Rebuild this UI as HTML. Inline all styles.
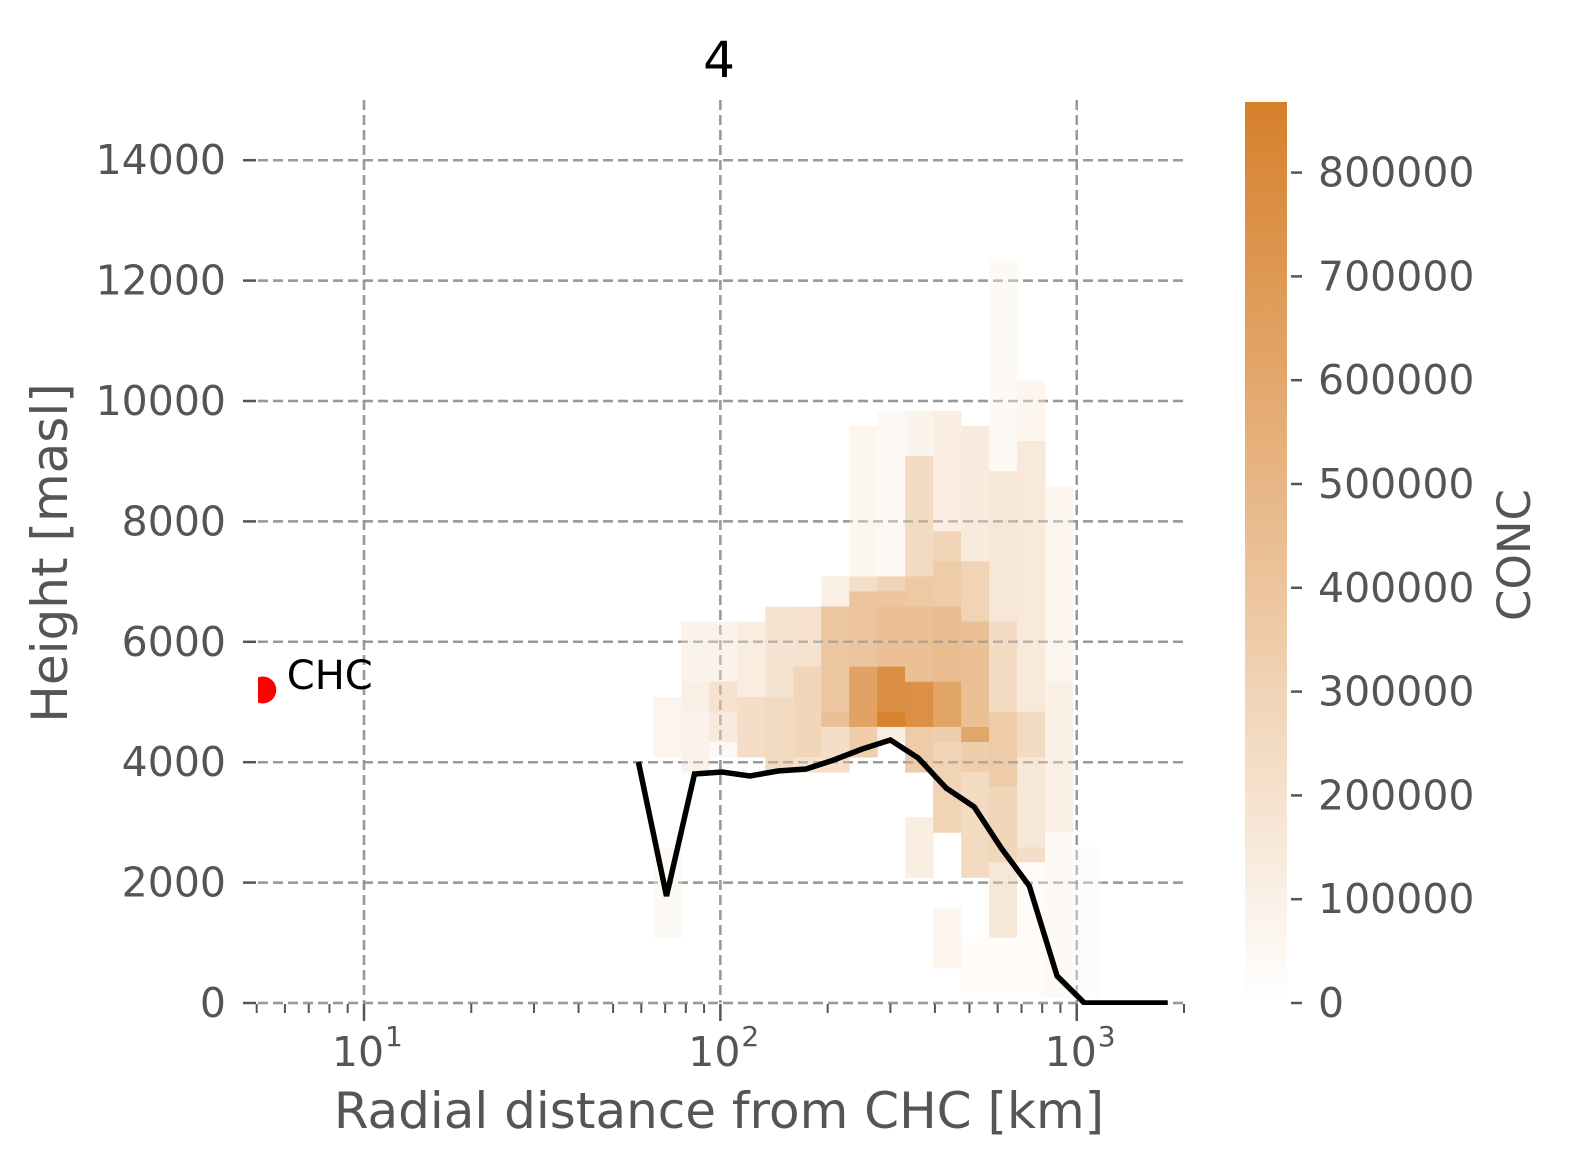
<!DOCTYPE html>
<html><head><meta charset="utf-8"><style>
html,body{margin:0;padding:0;background:#fff;}
svg{display:block;font-family:"DejaVu Sans","Liberation Sans",sans-serif;}
</style></head><body>
<svg id="chart" width="1572" height="1171" viewBox="0 0 1572 1171" xmlns="http://www.w3.org/2000/svg">
<defs>
<clipPath id="plotclip"><rect x="258" y="100" width="927" height="905"/></clipPath>
<linearGradient id="cbgrad" x1="0" y1="1" x2="0" y2="0">
<stop offset="0" stop-color="#ffffff"/><stop offset="1" stop-color="#d6802a"/>
</linearGradient>
</defs>
<text x="719" y="77" font-size="50" text-anchor="middle" fill="#000">4</text>
<g id="grid"></g>
<g id="cells" clip-path="url(#plotclip)"></g>
<g id="gridtop"></g>
<g id="axes"></g>
<g id="linegrp" clip-path="url(#plotclip)"></g>
<g id="pointgrp"></g>
<text x="719" y="1128" font-size="50" text-anchor="middle" fill="#555">Radial distance from CHC [km]</text>
<text transform="translate(67,553) rotate(-90)" font-size="50" text-anchor="middle" fill="#555">Height [masl]</text>
<rect x="1245" y="102" width="42" height="901" fill="url(#cbgrad)"/>
<g id="cbticks"></g>
<text transform="translate(1530,555) rotate(-90)" font-size="45" text-anchor="middle" fill="#555">CONC</text>
</svg>
<script>
const xTickExps = [1, 2, 3];
const yTicks = [0, 2000, 4000, 6000, 8000, 10000, 12000, 14000];
const cbTicks = [0, 100000, 200000, 300000, 400000, 500000, 600000, 700000, 800000];
// heatmap: column bin index (log bins from 10^1.812, step 0.0785 decade), altitude bottom, top (m), value
const cellCol = [0,0, 1,1,1, 2,2,2,2, 3,3, 4,4, 5,5,5, 6,6,6,6, 7,7,7,7,7, 8,8,8,8,8,8,8, 9,9,9,9,9,9,9, 10,10,10,10,10,10,10,10, 11,11,11,11,11,11,11, 12,12,12,12,12,12,12, 13,13,13,13,13,13, 14,14,14, 15];
const cellBot = [1086,4086, 3836,4836,5336, 5336,4836,4336,4086, 5086,4086, 5086,3836, 5586,4086,3836, 6586,4836,4586,3836, 7086,6836,5586,4586,4086, 7086,6836,6586,5586,4836,4586,4336, 9086,7086,6586,5336,4586,3836,2086, 7836,7336,6586,5336,4586,4336,2836,586, 7336,6336,4586,4336,3836,2086,86, 8836,6336,4836,3586,2336,1086,86, 9336,4836,4086,2586,2336,86, 5336,2836,86, 86];
const cellTop = [2586,5086, 4836,5336,6336, 6336,5336,4836,4336, 6336,5086, 6586,5086, 6586,5586,4086, 7086,6586,4836,4586, 9586,7086,6836,5586,4586, 9836,7086,6836,6586,5586,4836,4586, 9836,9086,7086,6586,5336,4586,3086, 9836,7836,7336,6586,5336,4586,4336,1586, 9586,7336,6336,4586,4336,3836,1086, 12336,8836,6336,4836,3586,2336,1086, 10336,9336,4836,4086,2586,2336, 8586,5336,2836, 2586];
const cellVal = [20000,45000, 55000,70000,50000, 60000,150000,100000,30000, 90000,180000, 140000,200000, 150000,230000,150000, 70000,330000,380000,180000, 40000,180000,350000,600000,280000, 30000,250000,350000,380000,760000,840000,80000, 50000,200000,320000,380000,740000,300000,80000, 80000,250000,300000,400000,580000,280000,250000,40000, 100000,250000,380000,570000,280000,200000,15000, 25000,120000,200000,300000,230000,120000,15000, 40000,110000,200000,120000,180000,15000, 45000,70000,20000, 10000];
const lineKm = [58.9, 70.6, 84.6, 101, 121, 145, 174, 208, 250, 300, 359, 430, 516, 614, 736, 881, 1050, 1800];
const lineH = [4003, 1777, 3804, 3837, 3771, 3854, 3887, 4036, 4219, 4369, 4070, 3571, 3256, 2575, 1944, 449, 0, 0];
const pointKm = [5.2];
const pointH = [5200];
const pointLabels = ["CHC"];

const NS = "http://www.w3.org/2000/svg";
const LX0 = 0.697, LX1 = 3.301, PX0 = 256, PX1 = 1184;
const VMAX = 868000;
function xs(km){ return PX0 + (Math.log10(km) - LX0) / (LX1 - LX0) * (PX1 - PX0); }
function ys(h){ return 1003 - h * 0.0602; }
function cbY(v){ return 1003 - v / VMAX * 901; }
function mk(tag, attrs, parent){ const e = document.createElementNS(NS, tag); for (const k in attrs) e.setAttribute(k, attrs[k]); parent.appendChild(e); return e; }
function colorFor(v){ const t = Math.pow(Math.min(1, v / VMAX), 0.85); const r = Math.round(255 + (214-255)*t), g = Math.round(255 + (128-255)*t), b = Math.round(255 + (42-255)*t); return `rgb(${r},${g},${b})`; }

const grid = document.getElementById('grid');
const gridTop = document.getElementById('gridtop');
const axes = document.getElementById('axes');
yTicks.forEach(t => {
  const l = mk('line', {x1: 258, x2: 1185, y1: ys(t), y2: ys(t), stroke: '#adadad', 'stroke-width': 2.5, 'stroke-dasharray': '10,5'}, grid);
  
  
});
xTickExps.forEach(e => {
  const x = xs(Math.pow(10, e));
  const l = mk('line', {x1: x, x2: x, y1: 100, y2: 1003, stroke: '#adadad', 'stroke-width': 2.5, 'stroke-dasharray': '10,5'}, grid);
  
  
});

const cells = document.getElementById('cells');
for (let i = 0; i < cellVal.length; i++) {
  const x0 = xs(Math.pow(10, 1.812 + 0.0785 * cellCol[i]));
  const x1 = xs(Math.pow(10, 1.812 + 0.0785 * (cellCol[i] + 1)));
  const r = mk('rect', {x: x0, y: ys(cellTop[i]), width: x1 - x0 + 0.5, height: ys(cellBot[i]) - ys(cellTop[i]) + 0.5, fill: colorFor(cellVal[i])}, cells);
  
  
}
yTicks.forEach(t => {
  const l = mk('line', {x1: 258, x2: 1185, y1: ys(t), y2: ys(t), stroke: '#888', 'stroke-opacity': 0.55, 'stroke-width': 2.5, 'stroke-dasharray': '10,5'}, gridTop);
  
  
});
xTickExps.forEach(e => {
  const x = xs(Math.pow(10, e));
  const l = mk('line', {x1: x, x2: x, y1: 100, y2: 1003, stroke: '#888', 'stroke-opacity': 0.55, 'stroke-width': 2.5, 'stroke-dasharray': '10,5'}, gridTop);
  
  
});

yTicks.forEach(t => {
  const l = mk('line', {x1: 243, x2: 256, y1: ys(t), y2: ys(t), stroke: '#555', 'stroke-width': 2.5}, axes);
  
  
  const tx = mk('text', {x: 226, y: ys(t) + 14, 'font-size': 41, 'text-anchor': 'end', fill: '#555'}, axes);
  tx.textContent = String(t);
  
  
});
for (let e = 0; e <= 3; e++) {
  for (let m = 1; m <= 9; m++) {
    const v = m * Math.pow(10, e);
    if (v < 4.95 || v > 2000) continue;
    const x = xs(v);
    const l = mk('line', {x1: x, x2: x, y1: 1004, y2: m === 1 ? 1021 : 1013, stroke: '#555', 'stroke-width': m === 1 ? 2.5 : 2}, axes);
    
    
  }
}
xTickExps.forEach(e => {
  const x = xs(Math.pow(10, e));
  const tx = mk('text', {x: x - 6, y: 1066, 'font-size': 41, 'text-anchor': 'middle', fill: '#555'}, axes);
  tx.textContent = '10';
  
  
  const sup = mk('text', {x: x + 21, y: 1046, 'font-size': 28, 'text-anchor': 'start', fill: '#555'}, axes);
  sup.textContent = String(e);
  
  
});

const linegrp = document.getElementById('linegrp');
const pts = lineKm.map((k, i) => xs(k).toFixed(1) + ',' + ys(lineH[i]).toFixed(1)).join(' ');
const pl = mk('polyline', {points: pts, fill: 'none', stroke: '#000', 'stroke-width': 5.5, 'stroke-linejoin': 'miter'}, linegrp);



const pg = document.getElementById('pointgrp');
const cp = mk('clipPath', {id: 'ptclip'}, pg);
mk('rect', {x: 258, y: 100, width: 927, height: 905}, cp);
pointKm.forEach((k, i) => {
  const c = mk('circle', {cx: xs(k), cy: ys(pointH[i]), r: 13.5, fill: '#ff0000', 'clip-path': 'url(#ptclip)'}, pg);
  
  
  const t = mk('text', {x: xs(k) + 24, y: ys(pointH[i]) - 1, 'font-size': 40, fill: '#000'}, pg);
  t.textContent = pointLabels[i];
  
  
});

const cbt = document.getElementById('cbticks');
cbTicks.forEach(v => {
  const l = mk('line', {x1: 1291, x2: 1302, y1: cbY(v), y2: cbY(v), stroke: '#555', 'stroke-width': 2.5}, cbt);
  
  
  const t = mk('text', {x: 1318, y: cbY(v) + 14, 'font-size': 41, fill: '#555'}, cbt);
  t.textContent = String(v);
  
  
});
</script>
</body></html>
